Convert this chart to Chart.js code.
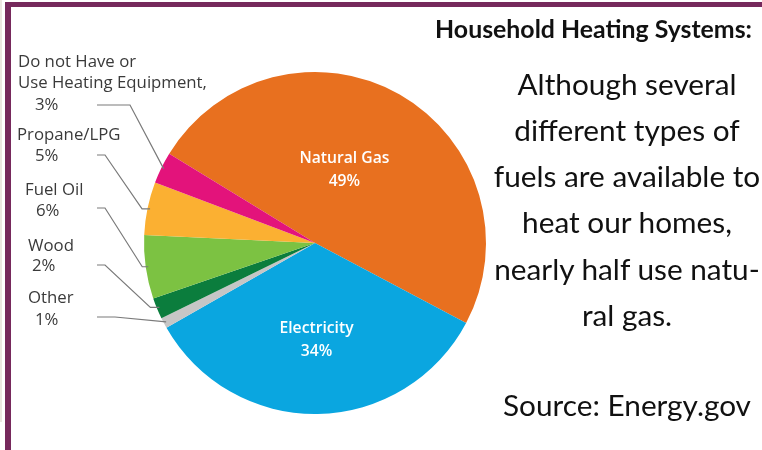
<!DOCTYPE html>
<html><head><meta charset="utf-8">
<script src="https://cdn.jsdelivr.net/npm/chart.js@4/dist/chart.umd.min.js"></script>
<style>
html,body{margin:0;padding:0;background:#fff;width:762px;height:450px;overflow:hidden;position:relative;}
#c{position:absolute;left:0;top:0;}
.frame{position:absolute;background:#76295c;}
.rt{position:absolute;white-space:nowrap;font-family:Lato,sans-serif;color:#111;}
</style></head><body>
<div style="position:absolute;left:0;top:0;width:2px;height:422px;background:#ebe7e1"></div>
<div class="frame" style="left:5px;top:2px;width:6px;height:448px"></div>
<div class="frame" style="left:5px;top:2px;width:757px;height:5px"></div>
<canvas id="c" width="762" height="450"></canvas>
<div id="txt"></div>
<script>
// ---- data ----
const categories = ['Natural Gas', 'Electricity', 'Other', 'Wood', 'Fuel Oil', 'Propane/LPG', 'Do not Have or Use Heating Equipment'];
const shares = [49, 34, 1, 2, 6, 5, 3];
const sliceColors = ['#e8701f', '#0aa6e0', '#c6c6c6', '#0b7d3d', '#7cc242', '#fbb032', '#e3137b'];
const labelNameLines = [['Natural Gas'], ['Electricity'], ['Other'], ['Wood'], ['Fuel Oil'], ['Propane/LPG'], ['Do not Have or', 'Use Heating Equipment,']];
const titleText = 'Household Heating Systems:';
const bodyLines = ['Although several', 'different types of', 'fuels are available to', 'heat our homes,', 'nearly half use natu-', 'ral gas.', 'Source: Energy.gov'];

// ---- layout / style ----
const insideLabel = {0: {angFrac: 0.456, radFrac: 0.46}, 1: {angFrac: 0.5, radFrac: 0.57}};
const outsideLayout = {
  6: {name: [[18, 62], [18, 83]], value: [35, 105], leader: [97, 130, 105], tail: 0},
  5: {name: [[17, 135]], value: [35, 156], leader: [97, 105, 155], tail: 8},
  4: {name: [[25, 190]], value: [36, 211], leader: [97, 105, 208], tail: 6},
  3: {name: [[28, 246]], value: [32, 266], leader: [97, 105, 265], tail: 9},
  2: {name: [[28, 298]], value: [35, 320], leader: [97, 115, 317], tail: 0}
};
const bodyBaselines = [95, 141, 187, 233, 280, 326, 416];

const mctx = document.createElement('canvas').getContext('2d');
function fitSize(text, font, target) {
  mctx.font = font.replace('SIZE', '100px');
  return 100 * target / mctx.measureText(text).width;
}
const pieLabelFont = '400 SIZE "Open Sans"';
const pieLabelSize = fitSize('Use Heating Equipment,', pieLabelFont, 189);
const sliceLabelFont = '600 SIZE "Open Sans"';
const sliceLabelSize = fitSize('Natural Gas', sliceLabelFont, 90);

const labelPlugin = {
  id: 'pieLabels',
  afterDatasetsDraw(chart) {
    const ctx = chart.ctx;
    const arcs = chart.getDatasetMeta(0).data;
    ctx.save();
    // inside labels
    ctx.fillStyle = '#ffffff';
    ctx.font = sliceLabelFont.replace('SIZE', sliceLabelSize.toFixed(2) + 'px');
    ctx.textAlign = 'center';
    ctx.textBaseline = 'middle';
    Object.keys(insideLabel).forEach(k => {
      const i = +k, a = arcs[i], cfg = insideLabel[k];
      const ang = a.startAngle + (a.endAngle - a.startAngle) * cfg.angFrac;
      const r = a.outerRadius * cfg.radFrac;
      const x = a.x + Math.cos(ang) * r, y = a.y + Math.sin(ang) * r;
      ctx.fillText(labelNameLines[i][0], x, y - 11.5);
      ctx.fillText(shares[i] + '%', x, y + 11.5);
    });
    // outside labels
    ctx.font = pieLabelFont.replace('SIZE', pieLabelSize.toFixed(2) + 'px');
    ctx.fillStyle = '#3a3a3a';
    ctx.textAlign = 'left';
    ctx.strokeStyle = '#7a7a7a';
    ctx.lineWidth = 1.2;
    Object.keys(outsideLayout).forEach(k => {
      const i = +k, a = arcs[i], L = outsideLayout[k];
      labelNameLines[i].forEach((t, j) => ctx.fillText(t, L.name[j][0], L.name[j][1]));
      ctx.fillText(shares[i] + '%', L.value[0], L.value[1]);
      const ang = (a.startAngle + a.endAngle) / 2;
      const r = a.outerRadius * 0.985;
      const ex = a.x + Math.cos(ang) * r, ey = a.y + Math.sin(ang) * r;
      ctx.beginPath();
      ctx.moveTo(L.leader[0], L.leader[2]);
      ctx.lineTo(L.leader[1], L.leader[2]);
      if (L.tail) { ctx.lineTo(ex - L.tail, ey); }
      ctx.lineTo(ex, ey);
      ctx.stroke();
    });
    ctx.restore();
  }
};

new Chart(document.getElementById('c'), {
  type: 'pie',
  data: {
    labels: categories,
    datasets: [{data: shares, backgroundColor: sliceColors, borderWidth: 0}]
  },
  options: {
    responsive: false,
    animation: false,
    rotation: 301.5,
    layout: {padding: {left: 144, right: 276, top: 72, bottom: 36}},
    plugins: {legend: {display: false}, tooltip: {enabled: false}}
  },
  plugins: [labelPlugin]
});

// ---- right-hand text ----
const txt = document.getElementById('txt');
const titleSize = fitSize(titleText, '700 SIZE Lato', 317);
const bodySize = fitSize(bodyLines[0], '400 SIZE Lato', 219);
const t = document.createElement('div');
t.className = 'rt';
t.textContent = titleText;
t.style.cssText = `font-weight:700;font-size:${titleSize}px;line-height:${titleSize}px;right:${762 - 752}px;top:${38 - 0.887 * titleSize}px;`;
txt.appendChild(t);
bodyLines.forEach((line, i) => {
  const d = document.createElement('div');
  d.className = 'rt';
  d.textContent = line;
  d.style.cssText = `font-size:${bodySize}px;line-height:${bodySize}px;left:427px;width:400px;text-align:center;top:${bodyBaselines[i] - 0.887 * bodySize}px;`;
  txt.appendChild(d);
});
</script>
</body></html>
